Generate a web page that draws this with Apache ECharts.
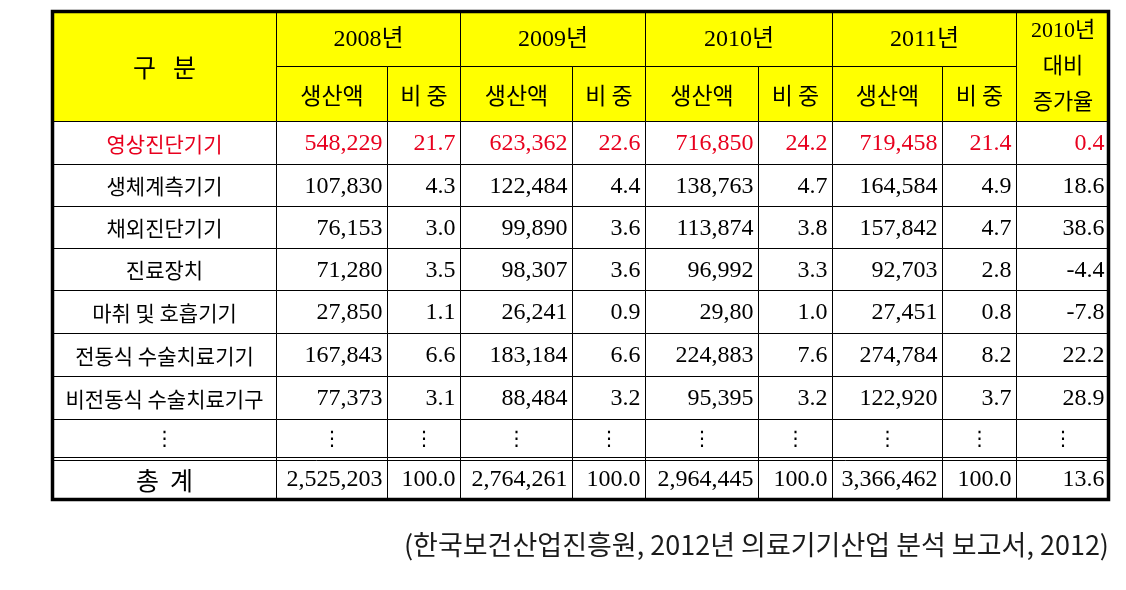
<!DOCTYPE html>
<html><head><meta charset="utf-8">
<script src="https://cdn.jsdelivr.net/npm/echarts@6/dist/echarts.min.js"></script>
<style>html,body{margin:0;padding:0;background:#fff}#c{width:1126px;height:590px}</style>
</head><body><div id="c"></div>
<script>
// ---------- data ----------
const categories = ['영상진단기기','생체계측기기','채외진단기기','진료장치','마취 및 호흡기기','전동식 수술치료기기','비전동식 수술치료기구','⋮','총  계'];
const years = ['2008년','2009년','2010년','2011년'];
const subHeads = ['생산액','비 중'];
const prod2008 = ['548,229','107,830','76,153','71,280','27,850','167,843','77,373','⋮','2,525,203'];
const share2008 = ['21.7','4.3','3.0','3.5','1.1','6.6','3.1','⋮','100.0'];
const prod2009 = ['623,362','122,484','99,890','98,307','26,241','183,184','88,484','⋮','2,764,261'];
const share2009 = ['22.6','4.4','3.6','3.6','0.9','6.6','3.2','⋮','100.0'];
const prod2010 = ['716,850','138,763','113,874','96,992','29,80','224,883','95,395','⋮','2,964,445'];
const share2010 = ['24.2','4.7','3.8','3.3','1.0','7.6','3.2','⋮','100.0'];
const prod2011 = ['719,458','164,584','157,842','92,703','27,451','274,784','122,920','⋮','3,366,462'];
const share2011 = ['21.4','4.9','4.7','2.8','0.8','8.2','3.7','⋮','100.0'];
const growth = ['0.4','18.6','38.6','-4.4','-7.8','22.2','28.9','⋮','13.6'];
const headFirst = '구   분';
const headLast = '2010년\n대비\n증가율';
const sourceNote = '(한국보건산업진흥원, 2012년 의료기기산업 분석 보고서, 2012)';

// ---------- layout (axis units) ----------
const colEdges = [0, 223.7, 334.7, 408, 520, 593, 705.7, 779.7, 890, 964, 1057];
const rowEdges = [0, 55, 110, 153, 195, 237, 279, 322, 365, 408, 446, 489];
const SERIF = "'Liberation Serif','Noto Sans CJK KR',serif";
const SANS = "'Noto Sans CJK KR',sans-serif";
const styles = {
  head:  {bg:'#ffff00', color:'#000', align:'center', font:SANS, size:23},
  year:  {bg:'#ffff00', color:'#000', align:'center', font:SERIF, size:24},
  last:  {bg:'#ffff00', color:'#000', align:'center', font:SERIF, size:22, lh:36},
  big:   {bg:'#ffff00', color:'#000', align:'center', font:SANS, size:25},
  name:  {bg:'#fff', color:'#000', align:'center', font:SANS, size:21},
  redname:{bg:'#fff', color:'#e8001e', align:'center', font:SANS, size:21},
  num:   {bg:'#fff', color:'#000', align:'right', font:SERIF, size:24},
  rednum:{bg:'#fff', color:'#e8001e', align:'right', font:SERIF, size:24},
  dots:  {bg:'#fff', color:'#000', align:'center', font:"'DejaVu Sans',sans-serif", size:20},
  total: {bg:'#fff', color:'#000', align:'center', font:SANS, size:25}
};

// ---------- cells ----------
const cells = [];
cells.push({c:0,r:0,cs:1,rs:2,text:headFirst,kind:'big'});
years.forEach((y,i)=>cells.push({c:1+2*i,r:0,cs:2,rs:1,text:y,kind:'year'}));
cells.push({c:9,r:0,cs:1,rs:2,text:headLast,kind:'last'});
for(let i=0;i<4;i++){ subHeads.forEach((s,j)=>cells.push({c:1+2*i+j,r:1,cs:1,rs:1,text:s,kind:'head'})); }
const valueCols = [prod2008,share2008,prod2009,share2009,prod2010,share2010,prod2011,share2011,growth];
categories.forEach((name,k)=>{
  const r = 2+k;
  const isRed = k===0, isDots = name==='⋮', isTotal = k===categories.length-1;
  cells.push({c:0,r,cs:1,rs:1,text:name,kind:isRed?'redname':isDots?'dots':isTotal?'total':'name'});
  valueCols.forEach((arr,j)=>{
    const v = arr[k];
    cells.push({c:1+j,r,cs:1,rs:1,text:v,kind:v==='⋮'?'dots':isRed?'rednum':'num'});
  });
});

function px(v){return Math.round(v)+0.5;}
function renderCell(params, api){
  const cell = cells[params.dataIndex];
  const a = api.coord([colEdges[cell.c], rowEdges[cell.r]]);
  const b = api.coord([colEdges[cell.c+cell.cs], rowEdges[cell.r+cell.rs]]);
  const x0=px(a[0]), y0=px(a[1]), x1=px(b[0]), y1=px(b[1]);
  const st = styles[cell.kind];
  const tx = st.align==='right' ? x1-5 : (x0+x1)/2;
  return {type:'group', children:[
    {type:'rect', shape:{x:x0,y:y0,width:x1-x0,height:y1-y0}, style:{fill:st.bg, stroke:'#000', lineWidth:1}},
    {type:'text', style:{x:tx, y:(y0+y1)/2+1, text:cell.text, align:st.align, verticalAlign:'middle',
      fill:st.color, fontFamily:st.font, fontSize:st.size, lineHeight:st.lh||st.size*1.2}}
  ]};
}
function renderFrame(params, api){
  const W = colEdges[colEdges.length-1], H = rowEdges[rowEdges.length-1];
  const a = api.coord([0,0]), b = api.coord([W,H]);
  const yd = px(api.coord([0,rowEdges[10]])[1]+3);
  return {type:'group', children:[
    {type:'line', shape:{x1:px(a[0]),y1:yd,x2:px(b[0]),y2:yd}, style:{stroke:'#000',lineWidth:1}},
    {type:'rect', shape:{x:a[0]+0.5,y:a[1]+0.5,width:b[0]-a[0]-1,height:b[1]-a[1]-1}, style:{fill:null,stroke:'#000',lineWidth:3.5}}
  ]};
}

const chart = echarts.init(document.getElementById('c'));
chart.setOption({
  animation:false,
  backgroundColor:'#fff',
  title:{text:sourceNote, right:12, top:526, textStyle:{fontFamily:SANS, fontSize:27, fontWeight:'normal', color:'#1a1a1a'}},
  grid:{left:52, top:11, width:1057, height:489},
  xAxis:{type:'value', min:0, max:colEdges[colEdges.length-1], show:false},
  yAxis:{type:'value', min:0, max:rowEdges[rowEdges.length-1], inverse:true, show:false},
  series:[
    {type:'custom', renderItem:renderCell, data:cells.map(c=>[c.c,c.r]), clip:false, silent:true},
    {type:'custom', renderItem:renderFrame, data:[[0,0]], clip:false, silent:true, z:5}
  ]
});
</script></body></html>
